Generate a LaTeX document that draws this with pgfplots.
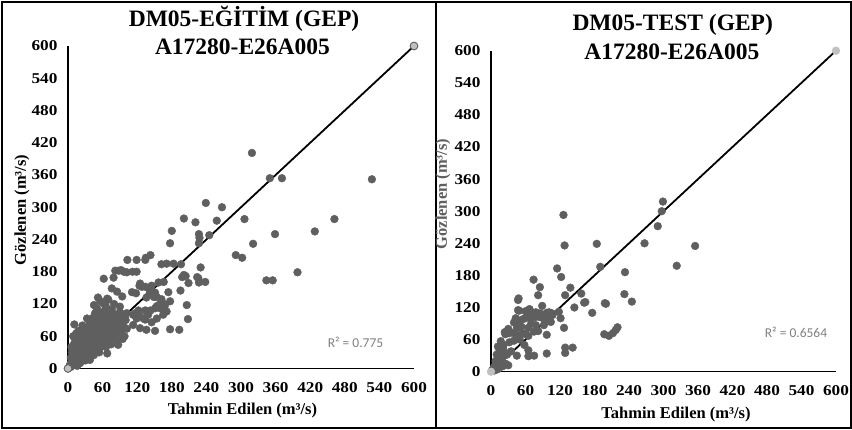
\documentclass[border=0pt]{standalone}
\usepackage{pgfplots}
\usepackage{pgfplotstable}
\pgfplotsset{compat=1.18}
\usepackage{fontspec}
\setmainfont{Liberation Serif}
\newfontfamily\calibri{Carlito}
\definecolor{dot}{RGB}{95,95,95}
\definecolor{lightdot}{RGB}{192,192,192}
\definecolor{rtext}{RGB}{128,128,128}

\pgfplotstableread{
x y
319 401
350 354
371 354
527 352
239 308
267 300
201 279
221 272
258 275
306 278
462 278
428 255
359 250
180 256
227 250
245 248
228 243
227 233
321 232
291 211
302 206
230 188
398 179
201 174
226 168
344 164
355 164
177 233
143 211
135 206
134 202
103 202
119 202
82 182
92 183
88 182
97 180
102 179
112 180
119 180
62 167
79 169
162 194
171 195
183 195
196 194
157 160
166 161
198 170
204 172
224 170
227 160
238 161
209 159
195 145
206 118
208 92
177 73
193 72
125 158
134 152
141 148
151 141
143 146
76 149
85 143
52 132
68 130
94 134
111 142
118 140
128 152
124 154
145 154
141 138
149 133
154 133
136 132
162 129
174 142
177 125
154 116
159 119
165 121
134 108
143 108
151 112
157 116
117 103
124 98
134 91
113 100
122 108
102 103
119 93
131 93
139 100
145 86
154 93
165 100
171 106
160 112
168 117
136 72
151 70
113 81
125 75
11 82
24 62
15 50
33 93
47 103
42 89
64 100
76 110
82 100
99 95
93 88
73 86
85 79
96 78
102 74
93 71
88 70
82 66
68 28
38 16
87 44
47 40
59 53
2 2
3 5
4 8
5 3
6 12
7 18
8 6
9 25
10 14
5 20
8 35
10 45
7 30
12 55
9 60
6 40
12 8
13 22
14 30
15 38
16 12
17 45
18 26
19 55
20 18
14 65
18 70
16 5
20 35
12 40
21 10
22 28
23 42
24 50
25 20
26 60
27 35
28 72
29 48
30 15
22 65
25 80
28 55
30 30
31 40
32 58
33 25
34 68
35 50
36 78
37 32
38 62
39 45
40 85
32 20
36 90
40 55
41 35
42 70
43 50
44 80
45 25
46 62
47 92
48 44
49 75
50 58
44 95
48 30
51 85
52 48
53 66
54 100
55 38
56 76
57 55
58 90
59 45
60 70
54 30
60 105
61 82
62 50
63 95
64 60
65 75
66 40
67 88
68 65
69 105
70 52
66 115
71 78
72 95
73 60
74 85
75 45
76 70
77 100
78 58
79 90
80 75
82 88
84 62
86 95
88 80
90 105
92 68
94 85
96 100
98 60
100 90
85 50
95 55
90 115
80 120
70 128
62 120
56 125
50 112
45 118
}\trainData

\pgfplotstableread{
x y
126 293
128 236
184 239
299 318
297 300
290 272
267 240
355 235
323 198
190 196
233 186
115 193
122 177
74 172
85 158
138 157
82 143
129 143
157 146
164 130
145 120
176 110
200 127
232 145
245 131
89 123
48 137
127 82
129 45
142 45
129 35
97 34
65 29
97 69
197 70
205 67
212 72
217 78
220 83
24 74
32 72
47 134
162 129
198 128
100 100
107 106
118 112
121 100
96 107
67 117
78 111
64 106
85 102
93 96
104 93
49 114
47 115
60 113
65 110
72 108
77 110
85 109
97 110
101 111
106 109
43 100
40 92
50 95
55 98
60 100
68 100
77 102
88 102
96 98
102 104
30 80
45 82
53 84
65 82
70 90
78 87
92 87
97 94
100 97
25 70
32 75
40 72
48 68
55 72
60 70
65 67
75 75
82 76
17 57
22 50
32 55
40 58
50 60
58 50
65 40
12 47
15 40
18 35
22 40
28 32
35 38
45 30
75 30
10 32
14 25
18 20
20 28
8 20
12 15
6 10
4 6
9 8
15 12
20 10
25 15
30 12
2 3
5 2
7 5
10 4
13 6
}\testData

\pgfplotsset{panel/.style={
  scale only axis, xmin=0, xmax=600, ymin=0, ymax=600,
  axis lines=left, axis line style={-, line width=1.6pt, black},
  xtick={0,60,...,600}, ytick={0,60,...,600},
  major tick length=0pt,
  ticklabel style={font=\fontsize{15}{17}\selectfont\bfseries},
  /pgf/number format/assume math mode=true,
  xticklabel={\scalebox{1.15}[1]{\pgfmathprintnumber{\tick}}},
  yticklabel={\scalebox{1.15}[1]{\pgfmathprintnumber{\tick}}},
  yticklabel style={xshift=-7pt},
  xticklabel style={yshift=-10pt},
  clip=false}}

\begin{document}
\begin{tikzpicture}[x=1pt,y=1pt]
\path[use as bounding box] (0,0) rectangle (852,430);
\draw[line width=1.1pt] (2,2) rectangle (851,428);
\draw[line width=1.1pt] (436,2) -- (436,428);

% Left panel
\begin{axis}[panel, at={(68pt,61.5pt)}, anchor=south west, width=346pt, height=322.5pt]
\addplot[black, line width=1.8pt] coordinates {(0,0) (600,600)};
\addplot[only marks, mark=*, mark size=3.9pt, color=dot] table {\trainData};
\addplot[only marks, mark=*, mark size=3.9pt, mark options={fill=lightdot, draw=dot, line width=0.9pt}] coordinates {(0,0) (600,600)};
\end{axis}

% Right panel
\begin{axis}[panel, at={(491pt,58.3pt)}, anchor=south west, width=345pt, height=321pt]
\addplot[black, line width=1.8pt] coordinates {(0,0) (600,600)};
\addplot[only marks, mark=*, mark size=3.9pt, color=dot] table {\testData};
\addplot[only marks, mark=*, mark size=3.9pt, color=lightdot] coordinates {(0,0) (600,600)};
\end{axis}

% Titles
\node[anchor=base, font=\fontsize{23.5}{28}\selectfont\bfseries, inner sep=0] at (244,403.3) {DM05-EĞİTİM (GEP)};
\node[anchor=base, font=\fontsize{23.5}{28}\selectfont\bfseries, inner sep=0] at (242.5,375) {A17280-E26A005};
\node[anchor=base, font=\fontsize{23.5}{28}\selectfont\bfseries, inner sep=0] at (672.7,399.3) {DM05-TEST (GEP)};
\node[anchor=base, font=\fontsize{23.5}{28}\selectfont\bfseries, inner sep=0] at (671.8,370.7) {A17280-E26A005};

% Axis labels
\node[anchor=base, font=\fontsize{16.5}{19}\selectfont\bfseries, inner sep=0] at (242.5,15.7) {Tahmin Edilen (m³/s)};
\node[anchor=base, font=\fontsize{16.5}{19}\selectfont\bfseries, inner sep=0] at (676,11) {Tahmin Edilen (m³/s)};
\node[rotate=90, font=\fontsize{16.5}{19}\selectfont\bfseries, inner sep=0] at (22,220) {Gözlenen (m³/s)};
\node[rotate=90, font=\fontsize{16.5}{19}\selectfont\bfseries, inner sep=0, text=dot] at (443,236) {Gözlenen (m³/s)};

% R2
\node[font=\calibri\fontsize{13.5}{16}\selectfont, text=rtext, inner sep=0] at (355.5,88) {R² = 0.775};
\node[font=\calibri\fontsize{13.5}{16}\selectfont, text=rtext, inner sep=0] at (796,98) {R² = 0.6564};
\end{tikzpicture}
\end{document}
